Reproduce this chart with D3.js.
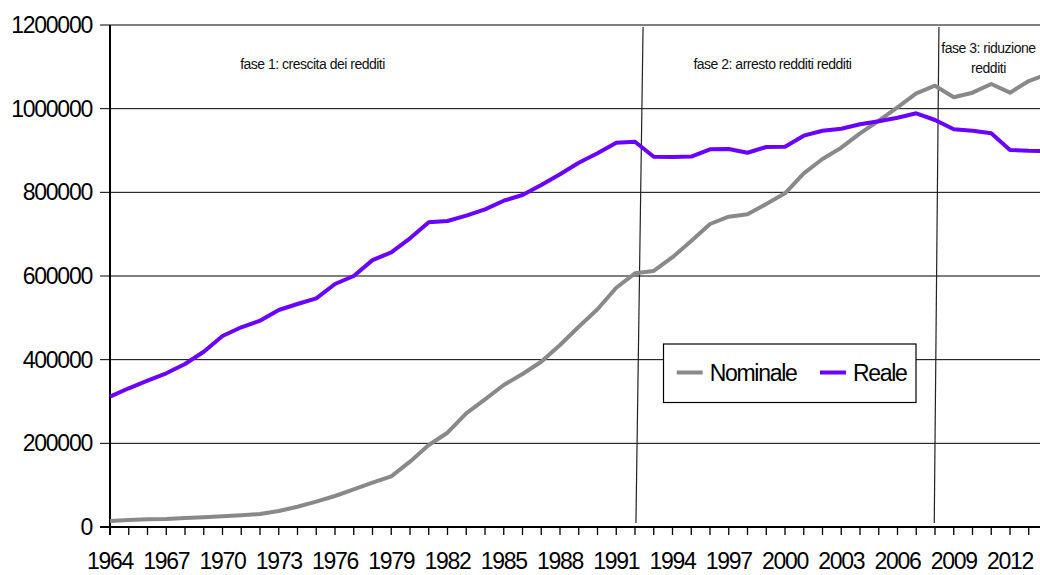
<!DOCTYPE html>
<html>
<head>
<meta charset="utf-8">
<script src="https://cdn.jsdelivr.net/npm/d3@7"></script>
<style>
  body { margin: 0; background: #fff; }
  svg { display: block; font-family: "Liberation Sans", Arial, sans-serif; }
</style>
</head>
<body>
<div id="chart"></div>
<script>
const years = d3.range(1964, 2015);

const nominale = [14300, 16700, 18400, 19100, 21500, 23200, 25600, 28000, 31100, 38200,
    48500, 60500, 74100, 90100, 105900, 121000, 156100, 196000, 225400, 271800,
    305300, 339400, 365700, 395100, 435100, 478800, 520400, 572000, 606400, 612000,
    645000, 683700, 724300, 741800, 747500, 772000, 797700, 845500, 879700, 906700,
    941100, 971200, 1003200, 1036700, 1054900, 1027200, 1038200, 1059000, 1038200, 1066000,
    1083000];

const reale = [311500, 331600, 349700, 367400, 389600, 419000, 456600, 477400, 493100, 518700,
    533100, 546700, 580900, 600000, 638000, 656600, 690100, 728400, 731500, 744200,
    759400, 780000, 793600, 817500, 843100, 870800, 893300, 918600, 921000, 885200,
    884500, 885500, 902900, 903600, 894700, 908300, 909000, 935400, 947300, 952100,
    962600, 969800, 978400, 988900, 972900, 950700, 947300, 941100, 901200, 899500,
    898800];

const yTicks = [0, 200000, 400000, 600000, 800000, 1000000, 1200000];
const xLabels = d3.range(1964, 2013, 3);

// phase separators (year at top, year at bottom) and labels
const phaseLines = [
    {top: 1992.43, bottom: 1992.05},
    {top: 2008.21, bottom: 2007.96}
];
const phaseLabels = [
    {year: 1974.8, value: 1106000, lines: ["fase 1: crescita dei redditi"]},
    {year: 1999.33, value: 1106000, lines: ["fase 2: arresto redditi redditi"]},
    {year: 2010.85, value: 1121000, lines: ["fase 3: riduzione", "redditi"]}
];

const seriesNames = ["Nominale", "Reale"];
const colors = ["#898989", "#6a00ff"];

const width = 1040, height = 575;
const svg = d3.select("#chart").append("svg")
    .attr("width", width)
    .attr("height", height);

const x = d3.scaleLinear().domain([1964, 2014]).range([110, 1047.5]);
const y = d3.scaleLinear().domain([0, 1200000]).range([527, 25]);

// gridlines + y ticks
svg.append("g")
    .selectAll("line")
    .data(yTicks)
    .enter()
    .append("line")
    .attr("x1", 100)
    .attr("x2", width)
    .attr("y1", d => y(d))
    .attr("y2", d => y(d))
    .attr("stroke", "#000")
    .attr("stroke-width", d => d === 0 ? 2 : 1);

svg.append("g")
    .selectAll("text")
    .data(yTicks)
    .enter()
    .append("text")
    .attr("x", 92)
    .attr("y", d => y(d))
    .attr("dy", "0.35em")
    .attr("text-anchor", "end")
    .attr("font-size", 23)
    .attr("letter-spacing", -1.25)
    .text(d => d);

// x axis ticks and labels
svg.append("g")
    .selectAll("line")
    .data(years)
    .enter()
    .append("line")
    .attr("x1", d => x(d))
    .attr("x2", d => x(d))
    .attr("y1", y(0))
    .attr("y2", y(0) + 8)
    .attr("stroke", "#000")
    .attr("stroke-width", 1.3);

svg.append("g")
    .selectAll("text")
    .data(xLabels)
    .enter()
    .append("text")
    .attr("x", d => x(d))
    .attr("y", 569)
    .attr("text-anchor", "middle")
    .attr("font-size", 23)
    .attr("letter-spacing", -1.25)
    .text(d => d);

// y axis line
svg.append("line")
    .attr("x1", x(1964)).attr("x2", x(1964))
    .attr("y1", y(1200000)).attr("y2", y(0) + 8)
    .attr("stroke", "#000")
    .attr("stroke-width", 2);

// phase separators
svg.append("g")
    .selectAll("line")
    .data(phaseLines)
    .enter()
    .append("line")
    .attr("x1", d => x(d.top))
    .attr("x2", d => x(d.bottom))
    .attr("y1", y(1195000))
    .attr("y2", y(9500))
    .attr("stroke", "#222")
    .attr("stroke-width", 1.2);

const labelG = svg.append("g")
    .selectAll("text")
    .data(phaseLabels)
    .enter()
    .append("text")
    .attr("text-anchor", "middle")
    .attr("font-size", 14)
    .attr("letter-spacing", -0.5)
    .attr("fill", "#111");

labelG.selectAll("tspan")
    .data(d => d.lines.map((t, i) => ({t: t, i: i, n: d.lines.length, d: d})))
    .enter()
    .append("tspan")
    .attr("x", d => x(d.d.year))
    .attr("y", d => y(d.d.value) + (d.i - (d.n - 1) / 2) * 20)
    .attr("dy", "0.35em")
    .text(d => d.t);

// series lines
const line = d3.line()
    .x((d, i) => x(years[i]))
    .y(d => y(d));

[nominale, reale].forEach(function (s, k) {
    svg.append("path")
        .datum(s)
        .attr("d", line)
        .attr("fill", "none")
        .attr("stroke", colors[k])
        .attr("stroke-width", 4)
        .attr("stroke-linejoin", "round");
});

// legend
const legend = svg.append("g");
legend.append("rect")
    .attr("x", 663.5)
    .attr("y", 344)
    .attr("width", 252.5)
    .attr("height", 58.5)
    .attr("fill", "#fff")
    .attr("stroke", "#000")
    .attr("stroke-width", 1.2);

const legendX = [676.7, 820];
seriesNames.forEach(function (name, k) {
    legend.append("line")
        .attr("x1", legendX[k])
        .attr("x2", legendX[k] + 26)
        .attr("y1", 372.5)
        .attr("y2", 372.5)
        .attr("stroke", colors[k])
        .attr("stroke-width", 4);
    legend.append("text")
        .attr("x", legendX[k] + 33)
        .attr("y", 372.5)
        .attr("dy", "0.35em")
        .attr("font-size", 23)
        .attr("letter-spacing", -1.3)
        .text(name);
});
</script>
</body>
</html>
